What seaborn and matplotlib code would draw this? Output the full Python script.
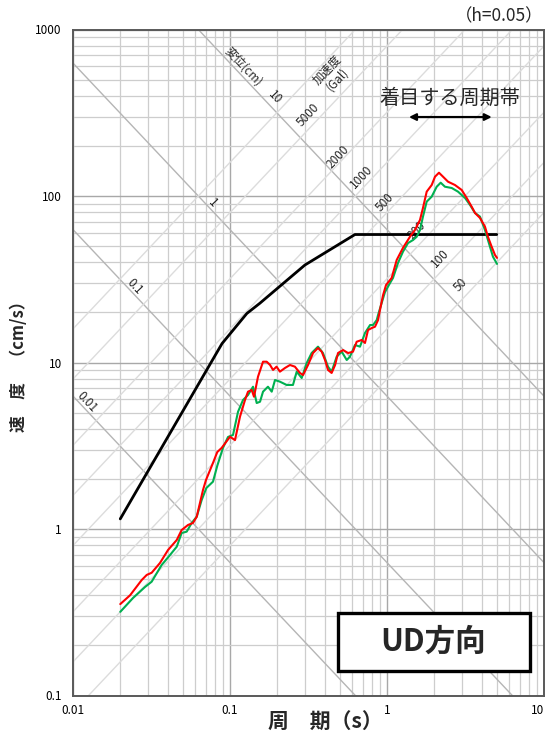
import numpy as np
import pandas as pd
import matplotlib
matplotlib.use("Agg")
import matplotlib.pyplot as plt
from matplotlib.ticker import FixedLocator, LogLocator, FuncFormatter, NullFormatter
from matplotlib.patches import FancyBboxPatch
import seaborn as sns

# period (s) / velocity (cm/s)
period_red = [0.020, 0.0231, 0.0274, 0.0295, 0.0317, 0.0358, 0.0403, 0.0458, 0.0492, 0.054,
              0.0581, 0.0614, 0.0673, 0.0703, 0.078, 0.083, 0.0885, 0.100, 0.1076, 0.1158,
              0.1246, 0.1302, 0.1375, 0.1422, 0.1508, 0.1623, 0.1713, 0.180, 0.188, 0.198,
              0.208, 0.224, 0.241, 0.259, 0.279, 0.292, 0.314, 0.338, 0.3635, 0.384,
              0.403, 0.421, 0.444, 0.467, 0.4875, 0.525, 0.565, 0.607, 0.641, 0.690,
              0.724, 0.757, 0.800, 0.839, 0.877, 0.902, 0.944, 0.986, 1.071, 1.153,
              1.264, 1.40, 1.507, 1.622, 1.695, 1.79, 1.926, 2.022, 2.143, 2.274,
              2.447, 2.71, 2.99, 3.218, 3.463, 3.635, 3.91, 4.207, 4.395, 4.64,
              4.875, 5.02]
vel_red = [0.354, 0.40, 0.494, 0.53, 0.546, 0.625, 0.748, 0.859, 0.986, 1.057,
           1.087, 1.186, 1.715, 1.968, 2.5, 2.9, 3.07, 3.58, 3.42, 4.73,
           5.95, 6.68, 6.84, 6.23, 8.22, 10.11, 10.11, 9.66, 9.02, 9.44,
           8.81, 9.27, 9.66, 9.44, 8.65, 8.41, 9.66, 11.40, 12.22, 11.61,
           10.35, 9.02, 8.65, 9.66, 11.40, 11.88, 11.40, 11.61, 13.33, 13.65,
           13.10, 15.67, 16.11, 16.41, 17.99, 20.65, 25.4, 29.2, 32.2, 41.3,
           48.8, 56.9, 62.5, 71.8, 84.8, 106.2, 116.4, 130.6, 138.0, 130.6,
           121.9, 116.4, 108.7, 97.3, 86.2, 79.1, 73.8, 65.5, 56.9, 49.6,
           44.2, 42.5]

period_green = [0.020, 0.0241, 0.02875, 0.0317, 0.0367, 0.0415, 0.0458, 0.0492, 0.053, 0.057,
                0.0614, 0.066, 0.0707, 0.0779, 0.083, 0.0902, 0.0971, 0.1045, 0.1125, 0.121,
                0.1302, 0.1402, 0.1479, 0.1553, 0.1623, 0.1745, 0.1844, 0.1935, 0.208, 0.2296,
                0.2518, 0.266, 0.2862, 0.308, 0.331, 0.3635, 0.391, 0.421, 0.444, 0.478,
                0.515, 0.554, 0.581, 0.625, 0.673, 0.724, 0.780, 0.815, 0.860, 0.877,
                0.916, 0.971, 1.045, 1.092, 1.175, 1.264, 1.361, 1.465, 1.545, 1.622,
                1.695, 1.79, 1.926, 2.073, 2.198, 2.339, 2.584, 2.833, 3.14, 3.38,
                3.635, 3.91, 4.207, 4.527, 4.73, 5.02]
vel_green = [0.318, 0.385, 0.4485, 0.4825, 0.608, 0.698, 0.783, 0.946, 0.964, 1.087,
             1.186, 1.493, 1.763, 1.924, 2.4, 3.07, 3.57, 3.67, 5.06, 5.95,
             6.38, 7.155, 5.71, 5.81, 6.68, 7.155, 6.68, 7.85, 7.67, 7.33,
             7.33, 8.81, 8.07, 9.93, 11.40, 12.45, 11.40, 9.44, 8.81, 10.84,
             11.61, 10.35, 10.84, 12.74, 12.45, 15.03, 16.79, 16.79, 17.99, 19.28,
             22.1, 26.5, 30.0, 32.2, 39.6, 46.3, 52.2, 54.4, 56.9, 62.5,
             75.2, 92.5, 99.1, 113.7, 120.2, 113.7, 111.7, 106.2, 97.3, 88.3,
             79.1, 75.2, 62.5, 49.6, 43.2, 39.1]

period_black = [0.02, 0.089, 0.128, 0.155, 0.30, 0.625, 5.0]
vel_black = [1.15, 13.0, 19.7, 22.7, 38.5, 58.7, 58.7]

# tripartite guide lines
disp_cm = [0.01, 0.1, 1, 10]
disp_labels = ["0.01", "0.1", "1", "10"]
acc_gal = [50, 100, 200, 500, 1000, 2000, 5000, 10000]
acc_labels = ["50", "100", "200", "500", "1000", "2000", "5000"]

# label positions (period, velocity)
disp_label_pos = [(0.0123, 5.8), (0.0248, 28.4), (0.0779, 90.8), (0.194, 393)]
acc_label_pos = [(2.95, 29.2), (2.19, 42.5), (1.55, 62.5), (0.965, 92),
                 (0.69, 130), (0.488, 171), (0.314, 306)]

sns.set_theme(style="white")
plt.rcParams['font.family'] = ['Noto Sans CJK JP', 'DejaVu Sans']

fig = plt.figure(figsize=(5.49, 7.36), dpi=100)
ax = fig.add_axes([73 / 549, 1 - 695.5 / 736, 471 / 549, 666 / 736])
ax.set_xscale("log")
ax.set_yscale("log")
ax.set_xlim(0.01, 10)
ax.set_ylim(0.1, 1000)

ax.xaxis.set_major_locator(FixedLocator([0.01, 0.1, 1, 10]))
ax.yaxis.set_major_locator(FixedLocator([0.1, 1, 10, 100, 1000]))
ax.xaxis.set_minor_locator(LogLocator(base=10, subs=np.arange(2, 10)))
ax.yaxis.set_minor_locator(LogLocator(base=10, subs=np.arange(2, 10)))
fmt = FuncFormatter(lambda v, p: f"{v:g}")
ax.xaxis.set_major_formatter(fmt)
ax.yaxis.set_major_formatter(fmt)
ax.xaxis.set_minor_formatter(NullFormatter())
ax.yaxis.set_minor_formatter(NullFormatter())
ax.tick_params(which="both", length=0, labelsize=8.5, colors="black")
ax.tick_params(axis="y", pad=8)
ax.tick_params(axis="x", pad=6)
# last x tick label would run past the figure edge
ax.get_xticklabels()[-1].set_horizontalalignment("right")
ax.grid(which="major", color="#a8a8a8", linewidth=1.0)
ax.grid(which="minor", color="#cdcdcd", linewidth=0.9)
ax.set_axisbelow(True)
for s in ax.spines.values():
    s.set_color("#595959")
    s.set_linewidth(1.4)

tt = np.array([0.005, 20])
for d in disp_cm:
    ax.plot(tt, 2 * np.pi * d / tt, color="#b5b5b5", lw=1.0, zorder=1)
for a in acc_gal:
    ax.plot(tt, a * tt / (2 * np.pi), color="#dcdcdc", lw=1.0, zorder=1)

ang = 46.7
for (t, v), lab in zip(disp_label_pos, disp_labels):
    ax.text(t, v, lab, rotation=-ang, fontsize=8.5, ha="center", va="center")
for (t, v), lab in zip(acc_label_pos, acc_labels):
    ax.text(t, v, lab, rotation=ang, fontsize=8.5, ha="center", va="center")
ax.text(0.121, 595, "変位(cm)", rotation=-ang, fontsize=8.5, ha="center", va="center")
ax.text(0.452, 533, "加速度\n(Gal)", rotation=ang, fontsize=8.5, ha="center", va="center",
        multialignment="center", linespacing=1.1)

sns.lineplot(x=period_black, y=vel_black, color="black", lw=2.0, sort=False,
             estimator=None, ax=ax, zorder=3)
sns.lineplot(x=period_green, y=vel_green, color="#00b050", lw=1.5, sort=False,
             estimator=None, ax=ax, zorder=4)
sns.lineplot(x=period_red, y=vel_red, color="#ff0000", lw=1.5, sort=False,
             estimator=None, ax=ax, zorder=5)

ax.annotate("", xy=(1.38, 298), xytext=(4.65, 298),
            arrowprops=dict(arrowstyle="<|-|>", color="black", lw=1.6,
                            mutation_scale=10, shrinkA=0, shrinkB=0))
ax.text(2.52, 388, "着目する周期帯", fontsize=14.5, ha="center", va="center")

ax.set_xlabel("周　期（s）", fontsize=15, fontweight="bold")
ax.xaxis.set_label_coords(0.535, -0.024)
ax.set_ylabel("速　度　（cm/s）", fontsize=12, fontweight="bold")
ax.yaxis.set_label_coords(-0.096, 0.5)

fig.text(0.99, 0.978, "（h=0.05）", fontsize=12.5, ha="right", va="center")

box = FancyBboxPatch((338 / 549, 1 - 671 / 736), 192 / 549, 58 / 736,
                     boxstyle="square,pad=0", transform=fig.transFigure,
                     facecolor="white", edgecolor="black", lw=2.4, zorder=10)
fig.patches.append(box)
fig.text(433 / 549, 1 - 642 / 736, "UD方向", fontsize=22, fontweight="bold",
         ha="center", va="center", zorder=11)

fig.savefig("out.png", dpi=100)
